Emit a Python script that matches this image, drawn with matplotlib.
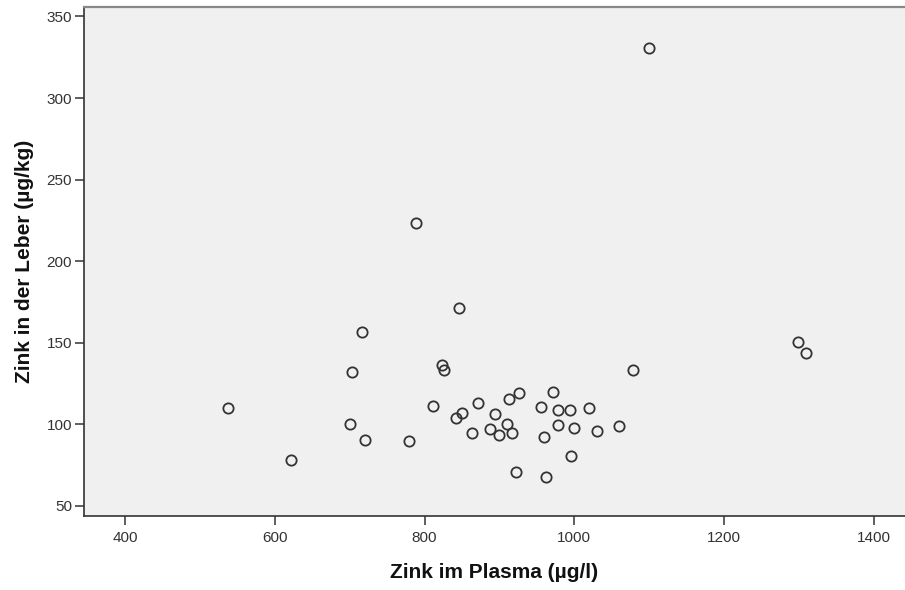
import matplotlib
matplotlib.use("Agg")
import matplotlib.pyplot as plt

plt.rcParams['font.family'] = ['Liberation Sans', 'DejaVu Sans']

# Zink im Plasma (µg/l) vs. Zink in der Leber (µg/kg)
zink_plasma = [538, 621, 700, 703, 717, 721, 779, 789, 812, 824,
               826.5, 842, 850, 846, 863, 871, 887, 894, 900, 910,
               913, 917, 922, 926, 955, 960, 962, 972, 979, 979,
               995, 996, 1000, 1020, 1030, 1060, 1079, 1100, 1299, 1310]
zink_leber = [110, 78.4, 100, 132, 156.5, 90.5, 90, 223.3, 111, 136.5,
              133, 104, 107, 171, 94.6, 113, 97, 106.2, 93.4, 100,
              115.4, 94.6, 71, 119, 110.5, 92.5, 68, 119.7, 109, 99.7,
              109, 80.7, 98, 109.7, 95.6, 99, 133.4, 330.6, 150.4, 144]

x_ticks = [400, 600, 800, 1000, 1200, 1400]
y_ticks = [50, 100, 150, 200, 250, 300, 350]

fig = plt.figure(figsize=(9.05, 5.9), dpi=100)
fig.patch.set_facecolor('white')
ax = fig.add_axes([0.0928, 0.126, 0.9072, 0.8627])
ax.set_facecolor('#f0f0f0')

ax.plot(zink_plasma, zink_leber, linestyle='none', marker='o',
        markersize=7.4, markerfacecolor='none', markeredgecolor='#333333',
        markeredgewidth=1.3)

ax.set_xlim(345, 1442)
ax.set_ylim(44, 356)
ax.set_xticks(x_ticks)
ax.set_yticks(y_ticks)

ax.spines['right'].set_visible(False)
ax.spines['top'].set_color('#888888')
ax.spines['top'].set_linewidth(1.6)
for s in ['left', 'bottom']:
    ax.spines[s].set_color('#333333')
    ax.spines[s].set_linewidth(1.2)

ax.tick_params(axis='both', direction='out', length=6.5, width=1.1,
               colors='#333333', labelsize=11, labelcolor='#333333')
ax.tick_params(axis='x', pad=4.5)
ax.tick_params(axis='y', pad=2)

ax.set_xlabel('Zink im Plasma (µg/l)', fontsize=15, fontweight='bold',
              color='#111111', labelpad=13)
ax.set_ylabel('Zink in der Leber (µg/kg)', fontsize=15, fontweight='bold',
              color='#111111', labelpad=9)

fig.savefig('out.png', dpi=100, facecolor='white')
